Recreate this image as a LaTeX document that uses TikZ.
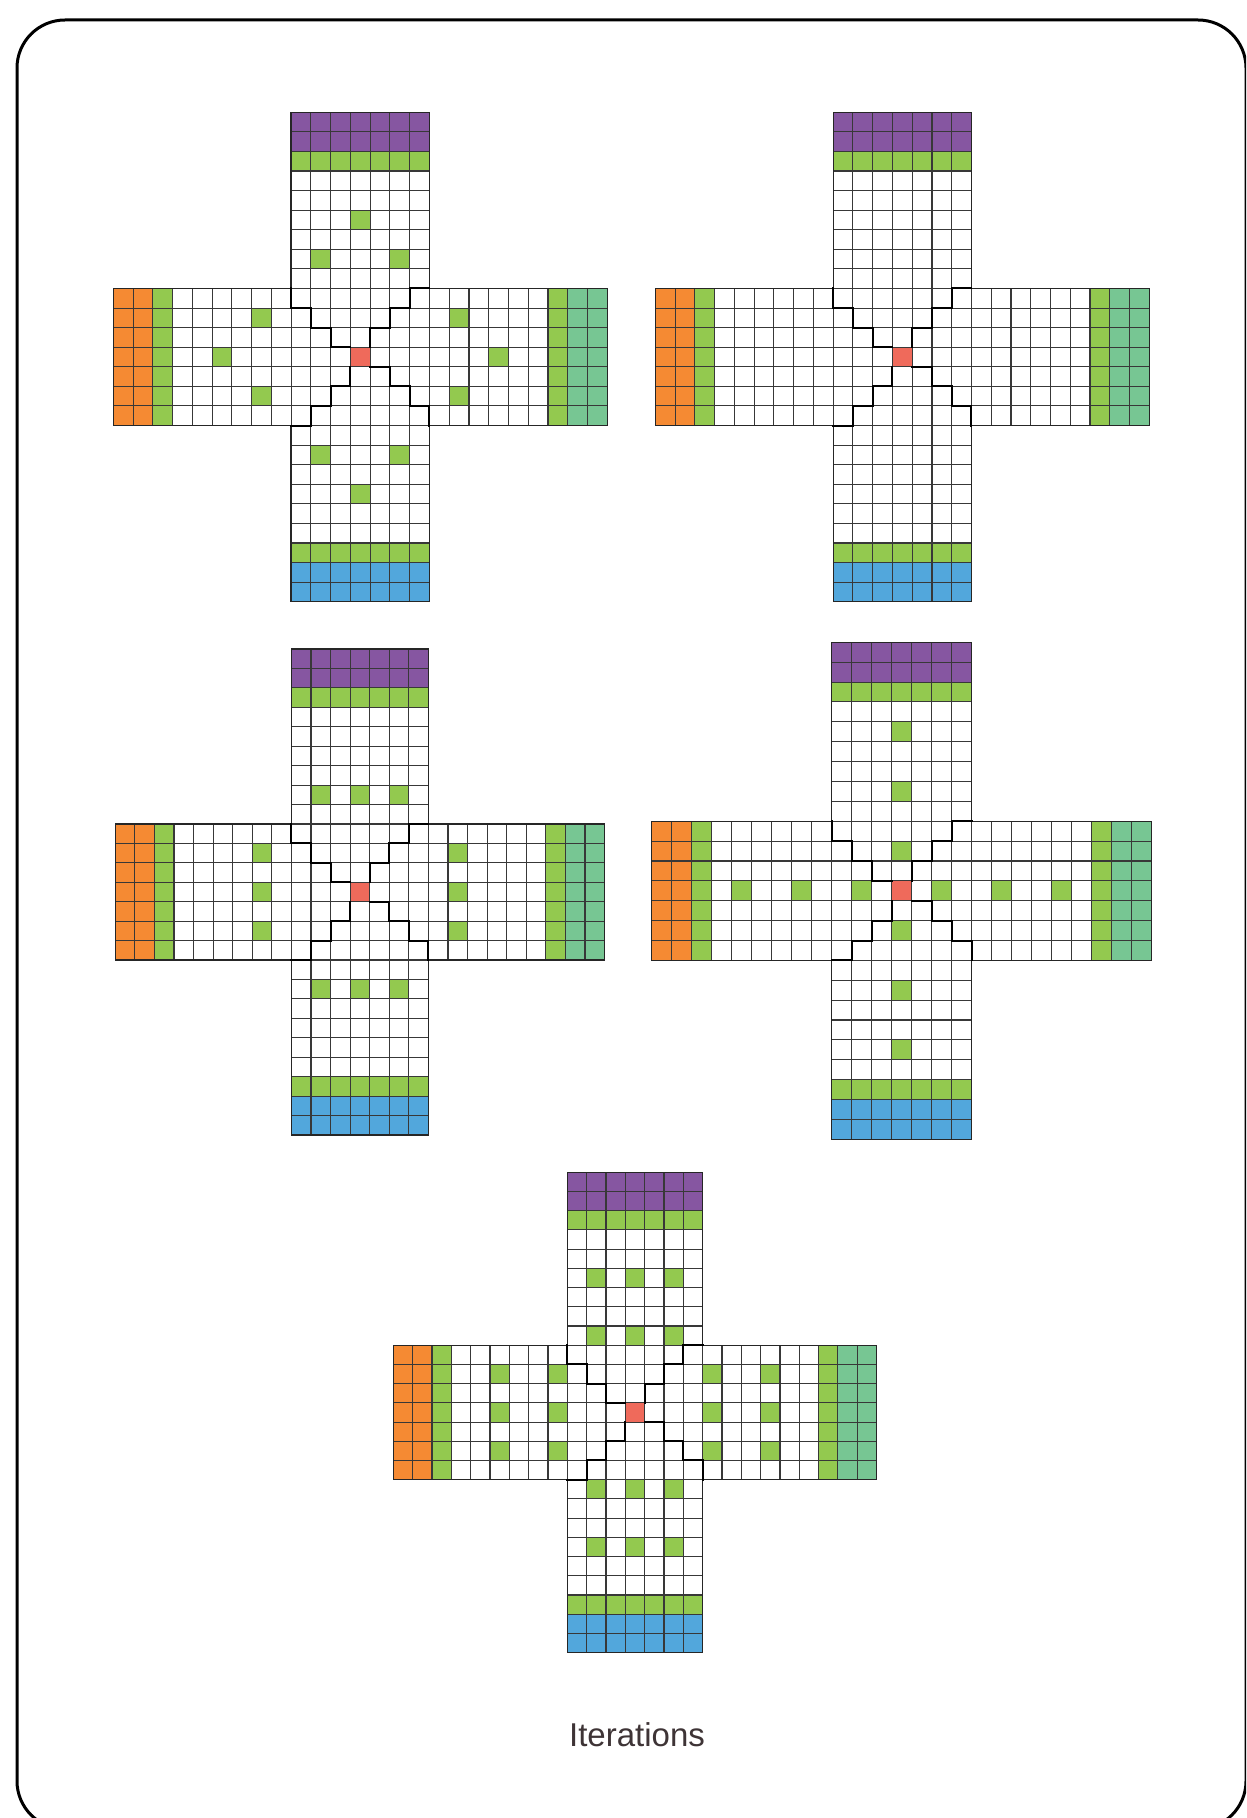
\documentclass[tikz,border=0pt]{standalone}
\usepackage{fontspec}
\newfontfamily\labelfont{Liberation Sans}
\definecolor{cpurple}{HTML}{8656A1}
\definecolor{cgreen}{HTML}{93C94F}
\definecolor{corange}{HTML}{F58A33}
\definecolor{cteal}{HTML}{77C693}
\definecolor{cblue}{HTML}{52A7DC}
\definecolor{cred}{HTML}{EF6A5B}
\definecolor{ctext}{HTML}{3E3436}
\tikzset{
  gridline/.style={draw=black!78, line width=0.55pt},
  outline/.style={draw=black!85, line width=0.65pt, line join=miter},
  stair/.style={draw=black, line width=1pt, line join=miter, line cap=rect},
  frameline/.style={draw=black, line width=1.5pt, rounded corners=24pt},
  greencell/.style={fill=cgreen},
}
% cross drawing helpers (units: one cell)
\newcommand\crossfills{%
  \fill[cpurple] (9,0) rectangle (16,2);
  \fill[cgreen] (9,2) rectangle (16,3);
  \fill[cgreen] (9,22) rectangle (16,23);
  \fill[cblue] (9,23) rectangle (16,25);
  \fill[corange] (0,9) rectangle (2,16);
  \fill[cgreen] (2,9) rectangle (3,16);
  \fill[cgreen] (22,9) rectangle (23,16);
  \fill[cteal] (23,9) rectangle (25,16);
  \fill[cred] (12,12) rectangle (13,13);
}
\newcommand\crosslines{%
  \foreach \i in {9,...,16} \draw[gridline] (\i,0) -- (\i,25);
  \foreach \j in {0,...,25} \draw[gridline] (9,\j) -- (16,\j);
  \foreach \j in {9,...,16} \draw[gridline] (0,\j) -- (25,\j);
  \foreach \i in {0,...,25} \draw[gridline] (\i,9) -- (\i,16);
  \draw[outline] (9,0) -- (16,0) -- (16,9) -- (25,9) -- (25,16) -- (16,16) -- (16,25) -- (9,25) -- (9,16) -- (0,16) -- (0,9) -- (9,9) -- cycle;
  \draw[stair] (9,9) -- (9,10) -- (10,10) -- (10,11) -- (11,11) -- (11,12) -- (12,12);
  \draw[stair] (13,12) -- (13,11) -- (14,11) -- (14,10) -- (15,10) -- (15,9) -- (16,9);
  \draw[stair] (13,13) -- (14,13) -- (14,14) -- (15,14) -- (15,15) -- (16,15) -- (16,16);
  \draw[stair] (12,13) -- (12,14) -- (11,14) -- (11,15) -- (10,15) -- (10,16) -- (9,16);
}
\newcommand\setcross[4]{%
  \pgfmathsetmacro\ux{#3/50}%
  \pgfmathsetmacro\uy{#4/50}%
  \pgfmathsetmacro\sx{#1/2}%
  \pgfmathsetmacro\sy{-#2/2}%
}
\begin{document}
\begin{tikzpicture}[x=0.5pt, y=-0.5pt]
  \useasboundingbox (0,0) rectangle (1246,1818);
  \clip (0,0) rectangle (1246,1818);
  \fill[white] (0,0) rectangle (1246,1818);
  \draw[frameline] (17,20) rectangle (1246,1829);

  % cross 1
  \setcross{113.3}{112.3}{494}{489.4}
  \begin{scope}[shift={(\sx pt,\sy pt)}, x=\ux pt, y=-\uy pt]
    \crossfills
    \foreach \a/\b in {12/5,10/7,14/7,7/10,5/12,7/14,17/10,19/12,17/14,10/17,14/17,12/19}
      \fill[greencell] (\a,\b) rectangle ++(1,1);
    \crosslines
  \end{scope}

  % cross 2
  \setcross{655.3}{112.3}{494}{489.4}
  \begin{scope}[shift={(\sx pt,\sy pt)}, x=\ux pt, y=-\uy pt]
    \crossfills
    \crosslines
  \end{scope}

  % cross 3
  \setcross{115.3}{649}{489.3}{486}
  \begin{scope}[shift={(\sx pt,\sy pt)}, x=\ux pt, y=-\uy pt]
    \crossfills
    \foreach \a/\b in {10/7,12/7,14/7,7/10,7/12,7/14,17/10,17/12,17/14,10/17,12/17,14/17}
      \fill[greencell] (\a,\b) rectangle ++(1,1);
    \crosslines
  \end{scope}

  % cross 4
  \setcross{651.7}{642.3}{500}{497}
  \begin{scope}[shift={(\sx pt,\sy pt)}, x=\ux pt, y=-\uy pt]
    \crossfills
    \foreach \a/\b in {12/4,12/7,12/10,12/14,12/17,12/20,4/12,7/12,10/12,14/12,17/12,20/12}
      \fill[greencell] (\a,\b) rectangle ++(1,1);
    \crosslines
  \end{scope}

  % cross 5
  \setcross{393.3}{1172.3}{483.3}{480.3}
  \begin{scope}[shift={(\sx pt,\sy pt)}, x=\ux pt, y=-\uy pt]
    \crossfills
    \foreach \a/\b in {10/5,12/5,14/5,10/8,12/8,14/8,5/10,8/10,5/12,8/12,5/14,8/14,16/10,19/10,16/12,19/12,16/14,19/14,10/16,12/16,14/16,10/19,12/19,14/19}
      \fill[greencell] (\a,\b) rectangle ++(1,1);
    \crosslines
  \end{scope}

  \node[inner sep=0pt, text=ctext, font=\labelfont\fontsize{16.5}{20}\selectfont] (title) at (637,1735) {Iterations};
\end{tikzpicture}
\end{document}
